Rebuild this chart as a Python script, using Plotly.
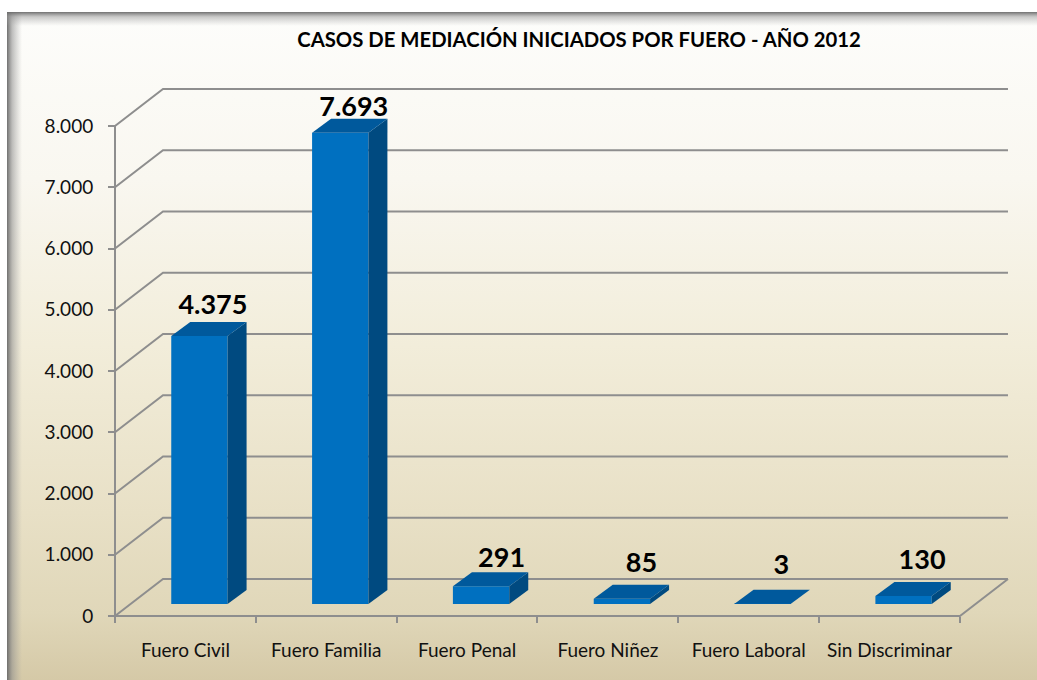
import plotly.graph_objects as go

TITLE = "CASOS DE MEDIACIÓN INICIADOS POR FUERO - AÑO 2012"
categories = ["Fuero Civil", "Fuero Familia", "Fuero Penal", "Fuero Niñez", "Fuero Laboral", "Sin Discriminar"]
values = [4375, 7693, 291, 85, 3, 130]
value_labels = ["4.375", "7.693", "291", "85", "3", "130"]
y_ticks = [0, 1000, 2000, 3000, 4000, 5000, 6000, 7000, 8000]
y_tick_labels = ["0", "1.000", "2.000", "3.000", "4.000", "5.000", "6.000", "7.000", "8.000"]

# Page and oblique-projection geometry (pixels)
W, H = 1037, 680
PX_PER_CAT = 140.83
PX_PER_UNIT = 0.06125
X0_PX, Y0_PX = 115, 616
WALL_DX, WALL_DY = 48, 37
BAR_SHIFT_X, BAR_SHIFT_Y = 14, 12
BAR_DX, BAR_DY = 19, 14
BAR_WIDTH = 0.4
LABEL_LIFT = [15, 10, 12, 20, 23, 20]
LABEL_SHIFT = [4, 4, 11, 10, 9, 9]

GRID = "#8e8e8e"
FRONT, TOP, SIDE = "#0070c0", "#00599c", "#004a80"


def dx(px):
    return px / PX_PER_CAT


def dy(px):
    return px / PX_PER_UNIT


def X(px):
    return (px - X0_PX) / PX_PER_CAT


def Y(py):
    return (Y0_PX - py) / PX_PER_UNIT


n = len(categories)
fig = go.Figure()


def gradient_rect(x0, y0, x1, y1, kind, scale):
    fig.add_trace(go.Scatter(
        x=[X(x0), X(x1), X(x1), X(x0), X(x0)], y=[Y(y0), Y(y0), Y(y1), Y(y1), Y(y0)],
        mode="lines", line=dict(width=0), fill="toself",
        fillgradient=dict(type=kind, colorscale=scale),
        hoverinfo="skip", showlegend=False))


# Panel background (vertical gradients run bottom to top)
gradient_rect(7, 12, W, H, "vertical", [
    [0, "#d5c9a7"], [0.1, "#e0d7b9"], [0.25, "#e8e0c6"], [0.5, "#f2edda"], [0.75, "#f9f7f0"], [1, "#fdfdfb"]])
# Panel inner shadows
gradient_rect(7, 12, 22, H, "horizontal", [
    [0, "rgba(105,105,105,0.95)"], [0.35, "rgba(140,140,140,0.55)"], [1, "rgba(160,160,160,0)"]])
gradient_rect(7, 12, W, 26, "vertical", [
    [0, "rgba(170,170,170,0)"], [0.65, "rgba(150,150,150,0.5)"], [1, "rgba(105,105,105,0.95)"]])

# Walls and floor
for v in y_ticks:
    fig.add_trace(go.Scatter(
        x=[0, dx(WALL_DX), n + dx(WALL_DX)], y=[v, v + dy(WALL_DY), v + dy(WALL_DY)],
        mode="lines", line=dict(color=GRID, width=2), hoverinfo="skip", showlegend=False))
fig.add_trace(go.Scatter(
    x=[0, 0, None, 0, n, n + dx(WALL_DX)],
    y=[0, y_ticks[-1], None, 0, 0, dy(WALL_DY)],
    mode="lines", line=dict(color=GRID, width=2), hoverinfo="skip", showlegend=False))

# Bars, on an overlaid subplot so they sit above the walls
centers = [i + 0.5 + dx(BAR_SHIFT_X) for i in range(n)]
base = dy(BAR_SHIFT_Y)
fig.add_trace(go.Bar(
    x=centers, y=values, base=[base] * n, width=BAR_WIDTH, xaxis="x2", yaxis="y2",
    marker=dict(color=FRONT, line=dict(width=0)), hoverinfo="skip", showlegend=False))
for c, v in zip(centers, values):
    l, r = c - BAR_WIDTH / 2, c + BAR_WIDTH / 2
    top = base + v
    fig.add_trace(go.Scatter(
        x=[r, r + dx(BAR_DX), r + dx(BAR_DX), r, r],
        y=[base, base + dy(BAR_DY), top + dy(BAR_DY), top, base],
        mode="lines", line=dict(width=0), fill="toself", fillcolor=SIDE,
        xaxis="x2", yaxis="y2", hoverinfo="skip", showlegend=False))
    fig.add_trace(go.Scatter(
        x=[l, r, r + dx(BAR_DX), l + dx(BAR_DX), l],
        y=[top, top, top + dy(BAR_DY), top + dy(BAR_DY), top],
        mode="lines", line=dict(width=0), fill="toself", fillcolor=TOP,
        xaxis="x2", yaxis="y2", hoverinfo="skip", showlegend=False))

# Value labels
fig.add_trace(go.Scatter(
    x=[c + dx(BAR_DX / 2 + s) for c, s in zip(centers, LABEL_SHIFT)],
    y=[base + v + dy(BAR_DY + lift) for v, lift in zip(values, LABEL_LIFT)],
    mode="text", text=value_labels, textposition="middle center",
    textfont=dict(family="Lato", size=27, color="#000000", weight="bold"),
    xaxis="x2", yaxis="y2", hoverinfo="skip", showlegend=False))

x_range = [X(0), X(W)]
y_range = [Y(H), Y(0)]
tick_font = dict(family="Lato", size=19, color="#111111")

fig.update_layout(
    width=W, height=H,
    margin=dict(l=0, r=0, t=0, b=0),
    paper_bgcolor="#ffffff", plot_bgcolor="rgba(0,0,0,0)",
    showlegend=False,
    barmode="overlay",
    title=dict(text=TITLE, x=579 / W, xanchor="center", y=1 - 40 / H, yanchor="middle",
               font=dict(family="Lato", size=20.3, color="#000000", weight="bold")),
    xaxis=dict(
        range=x_range, domain=[0, 1], anchor="free", position=(H - Y0_PX) / H,
        tickmode="array", tickvals=[i + 0.5 for i in range(n)], ticktext=categories,
        ticks="", showgrid=False, zeroline=False, showline=False, tickfont=tick_font,
        ticklabelstandoff=21,
        minor=dict(tickmode="array", tickvals=list(range(n + 1)), ticks="outside",
                   ticklen=6, tickwidth=2, tickcolor=GRID, showgrid=False)),
    yaxis=dict(
        range=y_range, domain=[0, 1], anchor="free", position=X0_PX / W,
        tickmode="array", tickvals=y_ticks, ticktext=y_tick_labels,
        ticks="outside", ticklen=7, tickwidth=2, tickcolor=GRID, ticklabelstandoff=11,
        showgrid=False, zeroline=False, showline=False, tickfont=tick_font),
    xaxis2=dict(range=x_range, domain=[0, 1], overlaying="x", visible=False, anchor="y2"),
    yaxis2=dict(range=y_range, domain=[0, 1], overlaying="y", visible=False, anchor="x2"),
)

fig.write_html("out.html", config=dict(displayModeBar=False),
               post_script="document.body.style.margin='0';")
